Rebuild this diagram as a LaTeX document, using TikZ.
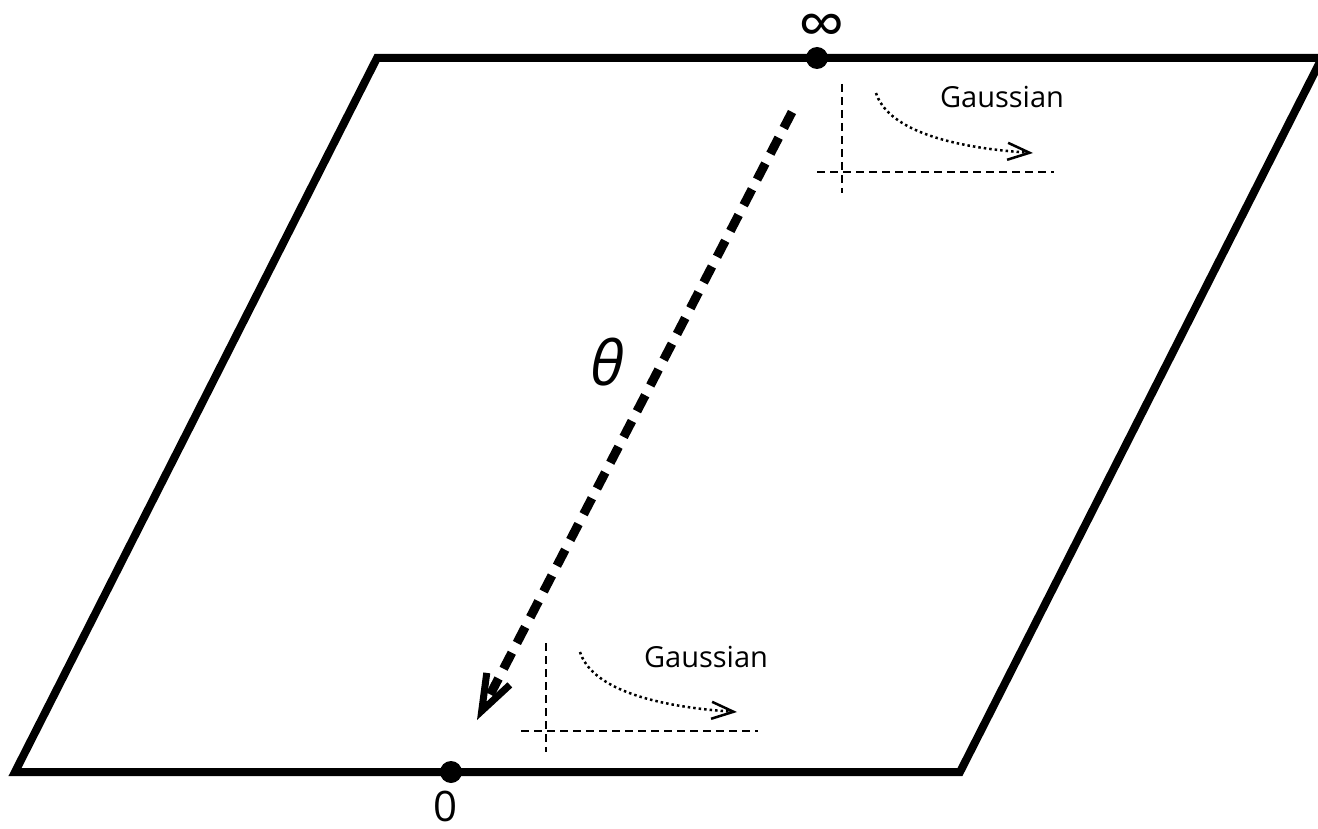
\documentclass[tikz,border=0pt]{standalone}
\usepackage{fontspec}
\setmainfont{Open Sans}
\usetikzlibrary{arrows.meta}
\tikzset{
  rim/.style={line width=8pt},
  dot/.style={circle,fill,inner sep=0pt,minimum size=22pt},
  axisline/.style={line width=2.5pt,dash pattern=on 8pt off 5pt},
  flow/.style={line width=2.5pt,dash pattern=on 2.5pt off 3pt,
    -{Straight Barb[length=22pt,width=17pt,line width=2.5pt]}},
  thetaline/.style={line width=9pt,dash pattern=on 18pt off 11pt,
    -{Straight Barb[length=36pt,width=26pt,line width=7pt]}},
}
\begin{document}
\begin{tikzpicture}[x=1pt,y=-1pt]
\useasboundingbox (0,0) rectangle (1318,829);
\clip (0,0) rectangle (1318,829);

% the plane
\coordinate (bl) at (15,772);
\coordinate (br) at (960,772);
\coordinate (tr) at (1322,58);
\coordinate (tl) at (377,58);
\draw[rim] (bl) -- (br) -- (tr) -- (tl) -- cycle;

\node[dot] (zero) at (451,772) {};
\node[dot] (inf) at (817,58) {};
\node[font=\fontsize{42}{42}\selectfont,anchor=base,inner sep=0pt] (zerolabel) at (446,821) {0};
\node[font=\fontsize{66}{66}\selectfont,inner sep=0pt] (inflabel) at (822,31) {∞};

% path from infinity down to zero
\coordinate (thetatop) at (792,112);
\coordinate (thetatip) at (477,720);
\draw[thetaline] (thetatop) -- (thetatip);
\node[font=\fontsize{62}{62}\selectfont\itshape] (theta) at (607,362) {θ};

% the two little Gaussian insets
\foreach \ox/\oy/\nm in {546/731/low, 842/172/high} {
  \begin{scope}[shift={(\ox,\oy)}]
    \coordinate (\nm xa) at (-25,0);
    \coordinate (\nm xb) at (212,0);
    \coordinate (\nm ya) at (0,-88);
    \coordinate (\nm yb) at (0,21);
    \draw[axisline] (\nm xa) -- (\nm xb);
    \draw[axisline] (\nm ya) -- (\nm yb);
    \coordinate (\nm fa) at (34,-79);
    \coordinate (\nm fb) at (191,-19);
    \draw[flow] (\nm fa) .. controls +(11,34) and +(-91,-6) .. (\nm fb);
    \node[font=\fontsize{29}{29}\selectfont,anchor=base] (\nm label) at (160,-64) {Gaussian};
  \end{scope}
}
\end{tikzpicture}
\end{document}
